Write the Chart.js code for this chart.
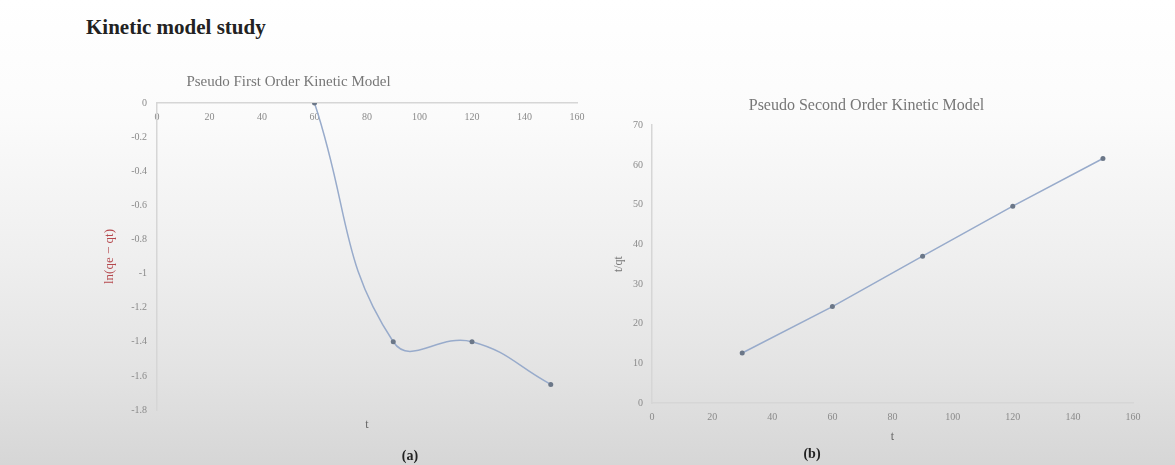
<!DOCTYPE html>
<html>
<head>
<meta charset="utf-8">
<script src="https://cdn.jsdelivr.net/npm/chart.js@4"></script>
<style>
  html, body { margin: 0; padding: 0; }
  body {
    width: 1175px; height: 465px; position: relative; overflow: hidden;
    background: linear-gradient(to bottom, #ffffff 0%, #fbfbfb 25%, #efefef 55%, #e3e3e3 80%, #d6d6d6 100%);
    font-family: "Liberation Serif", serif;
  }
  .heading { position: absolute; left: 86px; top: 15px; font-size: 21px; font-weight: bold; color: #222; }
  .cap { position: absolute; font-size: 14px; font-weight: bold; color: #222; transform: translateX(-50%); }
  .box { position: absolute; }
</style>
</head>
<body>
<div class="heading">Kinetic model study</div>
<div class="box" style="left:0px; top:60px; width:600px; height:390px;"><canvas id="chartA"></canvas></div>
<div class="box" style="left:600px; top:85px; width:550px; height:370px;"><canvas id="chartB"></canvas></div>
<div class="cap" style="left:410px; top:448px;">(a)</div>
<div class="cap" style="left:812px; top:446px;">(b)</div>
<script>
// pseudo first order: ln(qe - qt) vs t
const tA = [60, 90, 120, 150];
const lnA = [0, -1.4, -1.4, -1.65];
// pseudo second order: t/qt vs t
const tB = [30, 60, 90, 120, 150];
const tqB = [12.6, 24.3, 37.0, 49.6, 61.6];

const xTicks = [0, 20, 40, 60, 80, 100, 120, 140, 160];
const yTicksA = [0, -0.2, -0.4, -0.6, -0.8, -1, -1.2, -1.4, -1.6, -1.8];
const yTicksB = [0, 10, 20, 30, 40, 50, 60, 70];

const lineColor = "#98abcb";
const pointColor = "#6b7788";
const tickFont = { family: "Liberation Serif", size: 10 };
const tickColor = "#8a8a8a";
const axisColor = "#d6d6d6";

const useTicks = (arr) => (scale) => { scale.ticks = arr.map(v => ({ value: v })); };
const fmt = (v) => String(Math.round(v * 10) / 10);

new Chart(document.getElementById("chartA"), {
  type: "line",
  data: {
    datasets: [{
      data: tA.map((t, i) => ({ x: t, y: lnA[i] })),
      xAxisID: "x",
      yAxisID: "y",
      borderColor: lineColor,
      borderWidth: 1.5,
      backgroundColor: pointColor,
      pointRadius: 2.5,
      pointBorderWidth: 0,
      tension: 0.45,
    }],
  },
  options: {
    responsive: true,
    maintainAspectRatio: false,
    animation: false,
    layout: { padding: { left: 0, right: 23, top: 0, bottom: 0 } },
    plugins: {
      legend: { display: false },
      tooltip: { enabled: false },
      title: {
        display: true,
        text: "Pseudo First Order Kinetic Model",
        color: "#777",
        font: { family: "Liberation Serif", size: 15, weight: "normal" },
        padding: { top: 13, bottom: 12 },
      },
    },
    scales: {
      x: {
        type: "linear",
        position: { y: 0 },
        min: 0, max: 160,
        afterBuildTicks: useTicks(xTicks),
        grid: { display: false },
        border: { display: true, color: axisColor, width: 1.5 },
        ticks: { font: tickFont, color: tickColor, padding: 0, maxRotation: 0 },
      },
      x2: {
        type: "linear",
        axis: "x",
        position: "bottom",
        min: 0, max: 160,
        grid: { display: false },
        border: { display: false },
        ticks: { display: false },
        afterFit: (s) => { s.height = 40; },
        title: {
          display: true, text: "t", color: "#666",
          font: { family: "Liberation Serif", size: 12 },
          padding: { top: 0, bottom: 18 },
        },
      },
      y: {
        type: "linear",
        min: -1.8, max: 0,
        afterBuildTicks: useTicks(yTicksA),
        afterFit: (s) => { s.width = 157; },
        grid: { display: false },
        border: { display: true, color: axisColor, width: 1.5 },
        ticks: { font: tickFont, color: tickColor, padding: 2, callback: fmt },
        title: {
          display: true, text: "ln(qe − qt)", color: "#b5484d",
          font: { family: "Liberation Serif", size: 13 },
          padding: { top: 102, bottom: 0 },
        },
      },
    },
  },
});

new Chart(document.getElementById("chartB"), {
  type: "line",
  data: {
    datasets: [{
      data: tB.map((t, i) => ({ x: t, y: tqB[i] })),
      xAxisID: "x",
      yAxisID: "y",
      borderColor: lineColor,
      borderWidth: 1.5,
      backgroundColor: pointColor,
      pointRadius: 2.5,
      pointBorderWidth: 0,
      tension: 0,
    }],
  },
  options: {
    responsive: true,
    maintainAspectRatio: false,
    animation: false,
    layout: { padding: { left: 0, right: 17, top: 0, bottom: 0 } },
    plugins: {
      legend: { display: false },
      tooltip: { enabled: false },
      title: {
        display: true,
        text: "Pseudo Second Order Kinetic Model",
        color: "#777",
        font: { family: "Liberation Serif", size: 16, weight: "normal" },
        padding: { top: 11, bottom: 10 },
      },
    },
    scales: {
      x: {
        type: "linear",
        min: 0, max: 160,
        afterBuildTicks: useTicks(xTicks),
        afterFit: (s) => { s.height = 52; },
        grid: { display: false },
        border: { display: true, color: axisColor, width: 1.5 },
        ticks: { font: tickFont, color: tickColor, padding: 0, maxRotation: 0 },
        title: {
          display: true, text: "t", color: "#666",
          font: { family: "Liberation Serif", size: 12 },
          padding: { top: 0, bottom: 11 },
        },
      },
      y: {
        type: "linear",
        min: 0, max: 70,
        afterBuildTicks: useTicks(yTicksB),
        afterFit: (s) => { s.width = 52; },
        grid: { display: false },
        border: { display: true, color: axisColor, width: 1.5 },
        ticks: { font: tickFont, color: tickColor, padding: 1 },
        title: {
          display: true, text: "t/qt", color: "#777",
          font: { family: "Liberation Serif", size: 12 },
          padding: { top: 12, bottom: 0 },
        },
      },
    },
  },
});
</script>
</body>
</html>
